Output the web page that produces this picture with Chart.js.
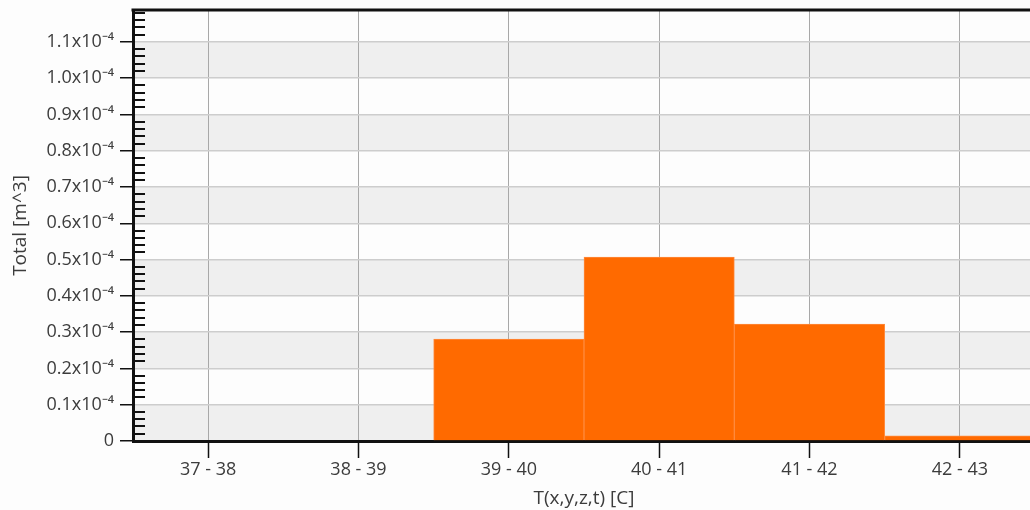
<!DOCTYPE html>
<html>
<head>
<meta charset="utf-8">
<script src="https://cdn.jsdelivr.net/npm/chart.js@4.4.1/dist/chart.umd.min.js"></script>
<style>
    html, body { margin: 0; padding: 0; background: #fdfdfd; overflow: hidden; }
    #wrap { width: 1035px; height: 510px; position: relative; }
</style>
</head>
<body>
<div id="wrap"><canvas id="histChart"></canvas></div>
<script>
const categories = ['37 - 38', '38 - 39', '39 - 40', '40 - 41', '41 - 42', '42 - 43'];
const totals = [0, 0, 0.0000281, 0.0000507, 0.0000322, 0.0000014];
const yMax = 0.0001188;
const yStep = 0.00001;

const fmtTick = v => {
    const n = v * 1e4;
    if (Math.abs(n) < 1e-9) return '0';
    return n.toFixed(1) + 'x10\u207B\u2074';
};

// alternating grey bands behind the plot, plus the heavy frame line on top
const plotDecor = {
    id: 'plotDecor',
    beforeDraw(chart) {
        const { ctx, chartArea: a, scales: { y } } = chart;
        ctx.save();
        ctx.fillStyle = '#fdfdfd';
        ctx.fillRect(a.left, a.top, a.right - a.left, a.bottom - a.top);
        ctx.fillStyle = '#efefef';
        for (let i = 0; i * yStep < yMax; i += 2) {
            const y0 = y.getPixelForValue(i * yStep);
            const y1 = y.getPixelForValue(Math.min((i + 1) * yStep, yMax));
            ctx.fillRect(a.left, y1, a.right - a.left, y0 - y1);
        }
        ctx.restore();
    },
    afterDraw(chart) {
        const { ctx, chartArea: a, scales: { y } } = chart;
        ctx.save();
        ctx.strokeStyle = '#111';
        // minor ticks, inside the plot
        ctx.lineWidth = 2;
        for (let k = 1; k * yStep / 5 < yMax; k++) {
            if (k % 5 === 0) continue;
            const py = Math.round(y.getPixelForValue(k * yStep / 5));
            ctx.beginPath();
            ctx.moveTo(a.left, py);
            ctx.lineTo(a.left + 12, py);
            ctx.stroke();
        }
        ctx.lineWidth = 3;
        ctx.beginPath();
        ctx.moveTo(a.left - 1.5, a.top);
        ctx.lineTo(a.right, a.top);
        ctx.stroke();
        ctx.restore();
    }
};

const txt = '#3c3c3c';
const ctx = document.getElementById('histChart').getContext('2d');
new Chart(ctx, {
    type: 'bar',
    data: {
        labels: categories,
        datasets: [{
            label: 'Total',
            data: totals,
            backgroundColor: '#ff6a00',
            borderColor: '#ff8a3c',
            borderWidth: 1,
            barPercentage: 1,
            categoryPercentage: 1
        }]
    },
    options: {
        responsive: true, maintainAspectRatio: false,
        animation: false,
        layout: { padding: { left: 7, top: 10, right: 0, bottom: 0 } },
        plugins: { legend: { display: false }, tooltip: { enabled: false } },
        scales: {
            x: {
                grid: { offset: false, color: '#a8a8a8', lineWidth: 1, tickColor: '#111', tickLength: 17, tickWidth: 1.5 },
                border: { color: '#111', width: 3 },
                ticks: { color: txt, font: { family: 'Open Sans', size: 18 }, padding: 1 },
                title: { display: true, text: 'T(x,y,z,t) [C]', color: txt, font: { family: 'Open Sans', size: 19 }, padding: { top: 0, bottom: 0 } },
                afterFit: s => { s.height = 69; s.paddingLeft = 0; s.paddingRight = 0; }
            },
            y: {
                min: 0, max: yMax,
                grid: { color: '#cdcdcd', lineWidth: 1.5, tickColor: '#111', tickLength: 13, tickWidth: 1.5 },
                border: { color: '#111', width: 3 },
                ticks: { stepSize: yStep, includeBounds: false, callback: fmtTick, color: txt, font: { family: 'Open Sans', size: 18 }, padding: 6 },
                title: { display: true, text: 'Total [m^3]', color: txt, font: { family: 'Open Sans', size: 19 }, padding: { top: 2, bottom: 0 } },
                afterFit: s => { s.width = 126; s.paddingTop = 0; s.paddingBottom = 0; }
            }
        }
    },
    plugins: [plotDecor]
});
</script>
</body>
</html>
